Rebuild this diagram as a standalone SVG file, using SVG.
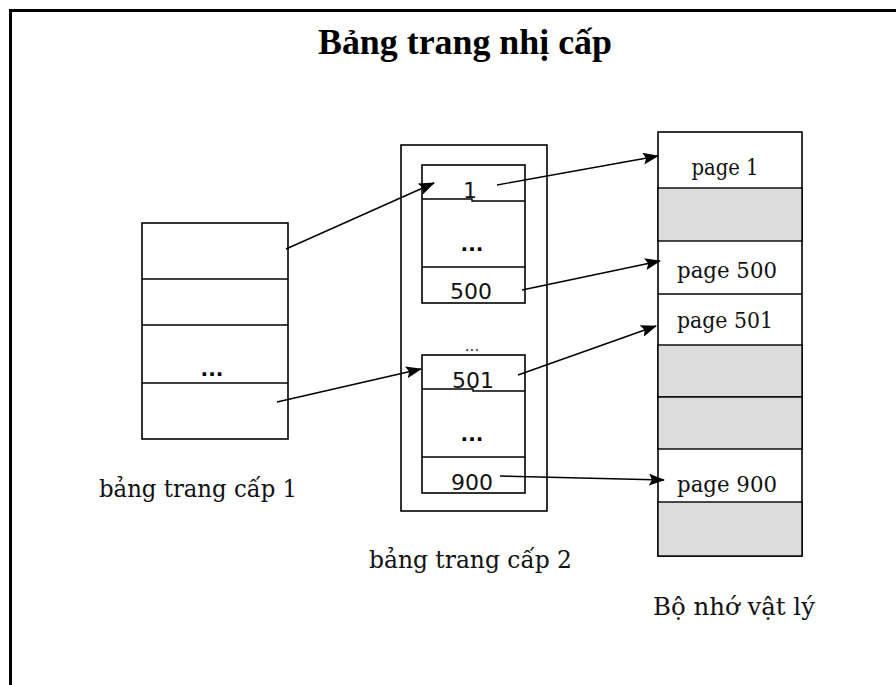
<svg xmlns="http://www.w3.org/2000/svg" width="896" height="685" viewBox="0 0 896 685">
<style>
.box{fill:#fff;stroke:#000;stroke-width:1.6}
.gray{fill:#dcdcdc;stroke:#000;stroke-width:1.4}
.ln{stroke:#000;stroke-width:1.4;fill:none}
.num{font-family:"DejaVu Sans",sans-serif;font-size:22px;fill:#111;text-anchor:middle}
.pg{font-family:"DejaVu Serif","Liberation Serif",serif;font-size:23px;fill:#111;text-anchor:middle}
.lbl{font-family:"DejaVu Serif","Liberation Serif",serif;font-size:25px;fill:#111}
.dots{font-family:"DejaVu Sans",sans-serif;font-size:20px;font-weight:bold;fill:#000;text-anchor:middle}
.arr{stroke:#000;stroke-width:1.4;fill:none;marker-end:url(#ah)}
</style>
<defs>
<marker id="ah" markerUnits="userSpaceOnUse" markerWidth="16" markerHeight="12" refX="15" refY="6" orient="auto">
<path d="M0,0 L16,6 L0,12 L3,6 Z" fill="#000"/>
</marker>
</defs>
<rect x="0" y="0" width="896" height="685" fill="#fff"/>
<g id="frame">
<rect x="10.5" y="10.5" width="1000" height="1000" fill="none" stroke="#000" stroke-width="3"/>
</g>
<g id="title">
<text x="465" y="54" font-family="Liberation Serif,serif" font-size="36" font-weight="bold" text-anchor="middle" fill="#000" textLength="294" lengthAdjust="spacingAndGlyphs">Bảng trang nhị cấp</text>
</g>
<g id="level1">
<rect class="box" x="142" y="223" width="146" height="216"/>
<line class="ln" x1="142" y1="279" x2="288" y2="279"/>
<line class="ln" x1="142" y1="325" x2="288" y2="325"/>
<line class="ln" x1="142" y1="383" x2="288" y2="383"/>
<text class="dots" x="212" y="376">...</text>
<text class="lbl" x="99" y="497" textLength="198" lengthAdjust="spacingAndGlyphs">bảng trang cấp 1</text>
</g>
<g id="level2">
<rect class="box" x="401" y="145" width="146" height="366"/>
<rect class="box" x="422" y="165" width="103" height="138"/>
<path class="ln" d="M422,199 H472 V201 H525"/>
<line class="ln" x1="422" y1="267" x2="525" y2="267"/>
<text class="num" x="470" y="198">1</text>
<text class="dots" x="472" y="251">...</text>
<text class="num" x="471" y="299" textLength="42" lengthAdjust="spacingAndGlyphs">500</text>
<text x="472" y="351" font-family="DejaVu Sans,sans-serif" font-size="15" fill="#333" text-anchor="middle">...</text>
<rect class="box" x="422" y="355" width="103" height="138"/>
<path class="ln" d="M422,389 H473 V391 H525"/>
<line class="ln" x1="422" y1="457" x2="525" y2="457"/>
<text class="num" x="473" y="388" textLength="42" lengthAdjust="spacingAndGlyphs">501</text>
<text class="dots" x="472" y="441">...</text>
<text class="num" x="472" y="490" textLength="42" lengthAdjust="spacingAndGlyphs">900</text>
<text class="lbl" x="369" y="568" textLength="203" lengthAdjust="spacingAndGlyphs">bảng trang cấp 2</text>
</g>
<g id="memory">
<rect class="box" x="658" y="132" width="144" height="424"/>
<rect class="gray" x="658" y="188" width="144" height="53"/>
<line class="ln" x1="658" y1="294" x2="802" y2="294"/>
<rect class="gray" x="658" y="345" width="144" height="52"/>
<rect class="gray" x="658" y="397" width="144" height="52"/>
<rect class="gray" x="658" y="502" width="144" height="54"/>
<text class="pg" x="725" y="175" textLength="67" lengthAdjust="spacingAndGlyphs">page 1</text>
<text class="pg" x="727" y="278" textLength="100" lengthAdjust="spacingAndGlyphs">page 500</text>
<text class="pg" x="725" y="328" textLength="96" lengthAdjust="spacingAndGlyphs">page 501</text>
<text class="pg" x="727" y="492" textLength="100" lengthAdjust="spacingAndGlyphs">page 900</text>
<text class="lbl" x="653" y="615" textLength="162" lengthAdjust="spacingAndGlyphs">Bộ nhớ vật lý</text>
</g>
<g id="connectors">
<line class="arr" x1="286" y1="249" x2="434" y2="183"/>
<line class="arr" x1="277" y1="402" x2="421" y2="369"/>
<line class="arr" x1="497" y1="185" x2="658" y2="156"/>
<line class="arr" x1="522" y1="290" x2="660" y2="261"/>
<line class="arr" x1="518" y1="375" x2="656" y2="326"/>
<line class="arr" x1="500" y1="476" x2="664" y2="480"/>
</g>
</svg>
